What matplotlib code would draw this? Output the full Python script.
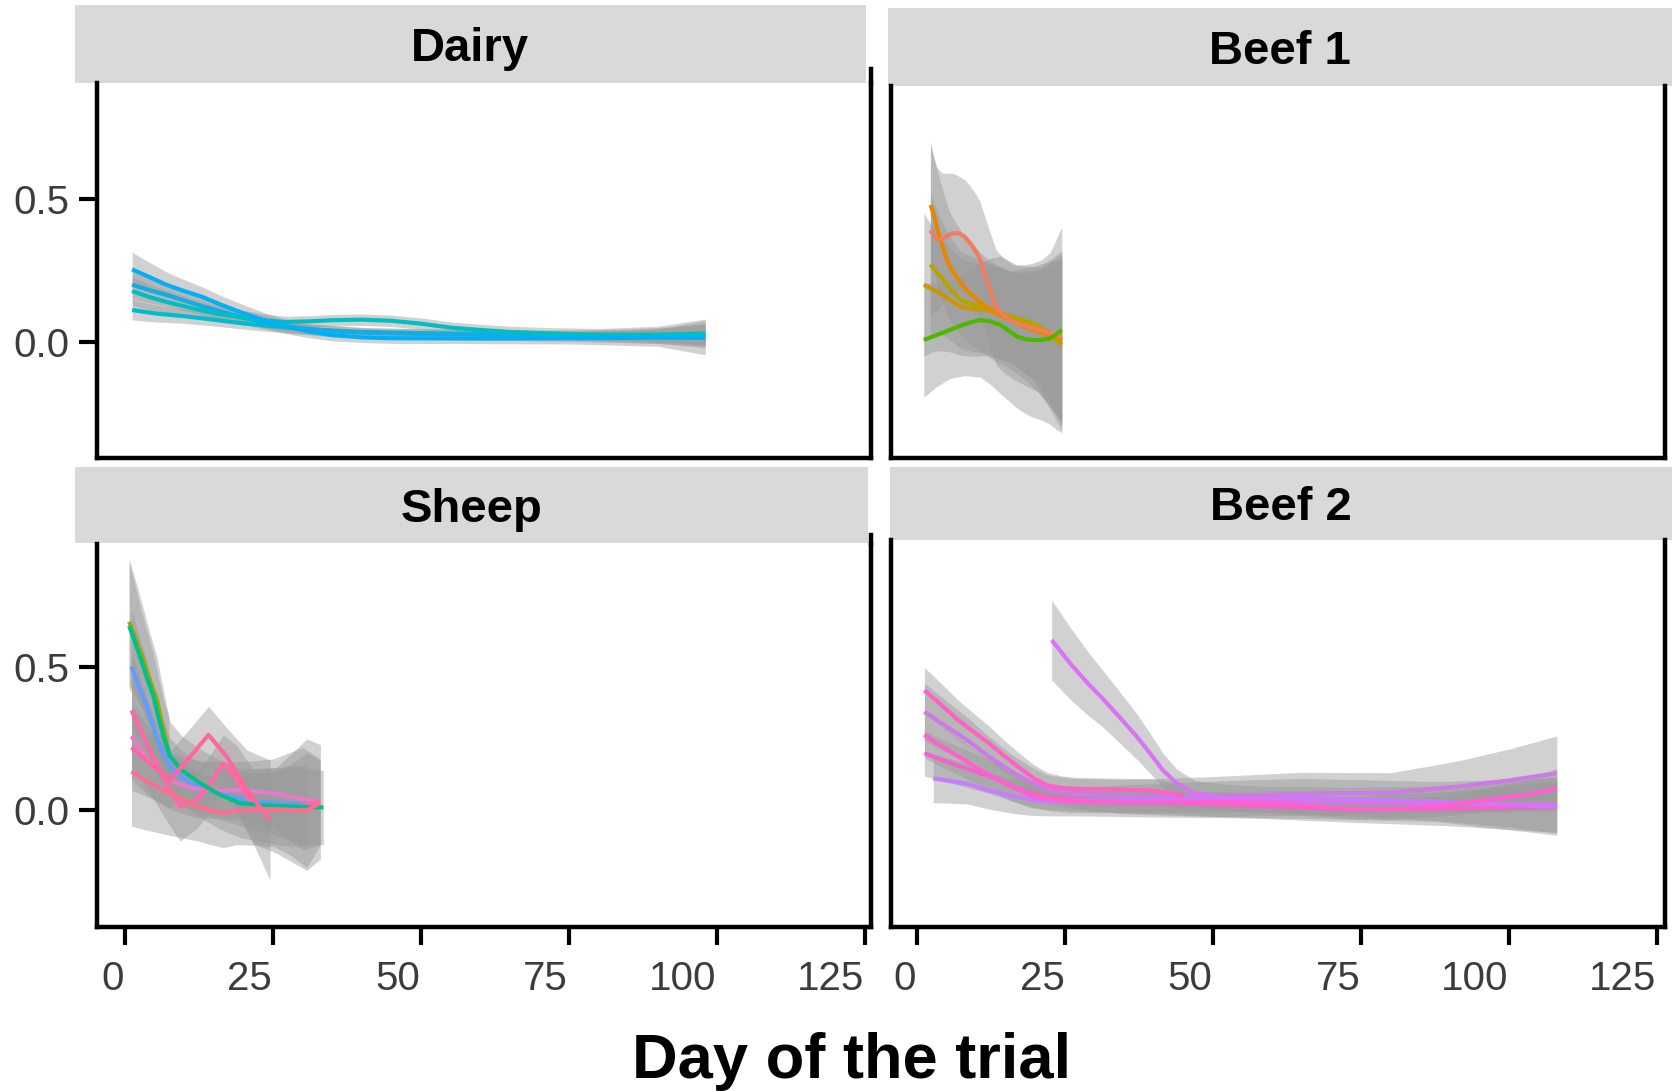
import matplotlib
matplotlib.use("Agg")
import matplotlib.pyplot as plt
from matplotlib.patches import Rectangle
from matplotlib.lines import Line2D
from matplotlib.transforms import ScaledTranslation

plt.rcParams['font.family'] = ['Liberation Sans', 'DejaVu Sans']

W, H = 1672, 1091
BAND = '#999999'
TICK_COL = '#3c3c3c'

# ---- Dairy: smoothed fits (day, fitted value, half-width of CI band)
dairy_a_day = [1.2, 5, 10, 15, 20, 25, 30, 35, 40, 50, 60, 70, 85, 98]
dairy_a_val = [0.112, 0.1, 0.09, 0.078, 0.065, 0.055, 0.045, 0.04, 0.035, 0.031, 0.028, 0.025, 0.025, 0.025]
dairy_a_se = [0.035, 0.03, 0.025, 0.022, 0.02, 0.02, 0.018, 0.017, 0.015, 0.015, 0.015, 0.016, 0.02, 0.035]

dairy_b_day = [1.2, 4, 7, 10, 13, 16, 20, 24, 27, 31, 35, 40, 45, 60, 75, 90, 98]
dairy_b_val = [0.2, 0.182, 0.165, 0.145, 0.125, 0.108, 0.085, 0.066, 0.055, 0.045, 0.038, 0.033,
               0.03, 0.025, 0.02, 0.02, 0.025]
dairy_b_se = [0.05, 0.045, 0.04, 0.035, 0.03, 0.028, 0.025, 0.022, 0.02, 0.02, 0.02, 0.018,
              0.018, 0.018, 0.018, 0.025, 0.04]

dairy_c_day = [1.2, 4, 7, 10, 13, 16, 20, 24, 27, 31, 35, 40, 45, 50, 55, 60, 65, 72, 80, 90, 98]
dairy_c_val = [0.178, 0.158, 0.14, 0.125, 0.11, 0.097, 0.085, 0.075, 0.07, 0.072, 0.076, 0.078,
               0.074, 0.064, 0.05, 0.042, 0.035, 0.03, 0.025, 0.025, 0.03]
dairy_c_se = [0.05, 0.045, 0.04, 0.035, 0.03, 0.028, 0.025, 0.022, 0.02, 0.02, 0.02, 0.02,
              0.02, 0.02, 0.02, 0.02, 0.02, 0.02, 0.022, 0.03, 0.05]

dairy_d_day = [1.2, 4, 7, 10, 13, 16, 20, 24, 27, 31, 35, 40, 45, 60, 75, 90, 98]
dairy_d_val = [0.254, 0.228, 0.2, 0.178, 0.158, 0.132, 0.1, 0.072, 0.055, 0.037, 0.024, 0.016,
               0.013, 0.012, 0.013, 0.015, 0.015]
dairy_d_se = [0.06, 0.052, 0.045, 0.04, 0.035, 0.032, 0.03, 0.027, 0.025, 0.022, 0.02, 0.018,
              0.018, 0.018, 0.02, 0.03, 0.06]

# ---- Beef 1
beef1_a_day = [1.1, 2.5, 3.9, 5.6, 7.3, 9.5, 11.8, 14, 16.2, 18.5, 20.7, 22.6, 24.4]
beef1_a_val = [0.2, 0.185, 0.17, 0.145, 0.123, 0.115, 0.112, 0.098, 0.083, 0.068, 0.053, 0.03, 0.007]
beef1_a_se = [0.25, 0.22, 0.2, 0.18, 0.17, 0.165, 0.16, 0.16, 0.16, 0.18, 0.2, 0.25, 0.3]

beef1_b_day = [2.2, 3.9, 5.6, 7.3, 9.3, 11.3, 13.5, 15.8, 17.8, 19.7, 22, 24.4]
beef1_b_val = [0.27, 0.23, 0.185, 0.147, 0.132, 0.123, 0.105, 0.089, 0.077, 0.065, 0.03, -0.01]
beef1_b_se = [0.25, 0.2, 0.18, 0.17, 0.165, 0.16, 0.16, 0.16, 0.18, 0.2, 0.25, 0.3]

beef1_c_day = [2.26, 2.7, 3.4, 4.1, 4.8, 5.5, 6.9, 8.3, 10, 11.7, 13.6, 15.6, 17.6, 19.6, 22, 24.4]
beef1_c_val = [0.479, 0.45, 0.395, 0.346, 0.3, 0.263, 0.218, 0.182, 0.15, 0.123, 0.098, 0.077,
               0.058, 0.042, 0.024, 0.007]
beef1_c_se = [0.22, 0.2, 0.2, 0.2, 0.195, 0.19, 0.185, 0.18, 0.175, 0.17, 0.17, 0.17, 0.18, 0.2,
              0.24, 0.28]

beef1_d_day = [2.2, 3.3, 4.2, 5.0, 6.0, 7.0, 8.0, 8.9, 9.8, 10.6, 11.3, 12.0, 12.7, 13.4, 14.8,
               16.2, 18.5, 20.7, 22.6, 24.4]
beef1_d_val = [0.39, 0.36, 0.36, 0.37, 0.38, 0.38, 0.368, 0.346, 0.32, 0.29, 0.245, 0.2, 0.158,
               0.118, 0.09, 0.07, 0.055, 0.042, 0.03, 0.019]
beef1_d_se = [0.3, 0.25, 0.23, 0.22, 0.21, 0.2, 0.2, 0.2, 0.2, 0.2, 0.2, 0.2, 0.2, 0.2, 0.2,
              0.2, 0.21, 0.22, 0.26, 0.3]

beef1_e_day = [1.1, 3.3, 5.5, 8, 10.6, 12.3, 14.0, 15.4, 16.8, 18.2, 19.6, 21, 22.4, 23.4, 24.4]
beef1_e_val = [0.007, 0.024, 0.042, 0.062, 0.077, 0.072, 0.06, 0.04, 0.019, 0.01, 0.006, 0.007,
               0.012, 0.025, 0.042]
beef1_e_se = [0.2, 0.18, 0.17, 0.18, 0.2, 0.22, 0.24, 0.245, 0.25, 0.26, 0.27, 0.28, 0.3, 0.33, 0.36]

# ---- Sheep
sheep_a_day = [1.1, 2.4, 3.7, 4.8, 5.9, 7.6, 9.3, 11.0, 13.8, 16.6, 19.4, 22.3, 26.5, 30.7]
sheep_a_val = [0.503, 0.43, 0.363, 0.29, 0.223, 0.153, 0.12, 0.095, 0.073, 0.055, 0.041, 0.03,
               0.024, 0.02]
sheep_a_se = [0.2, 0.18, 0.16, 0.14, 0.12, 0.1, 0.095, 0.09, 0.09, 0.09, 0.095, 0.1, 0.12, 0.14]

sheep_b_day = [1.1, 4, 8, 12, 16, 20, 25, 30, 33]
sheep_b_val = [0.26, 0.17, 0.1, 0.075, 0.07, 0.07, 0.06, 0.04, 0.03]
sheep_b_se = [0.15, 0.12, 0.1, 0.1, 0.1, 0.1, 0.12, 0.18, 0.15]

sheep_c_day = [1.1, 4.2, 7.0, 9.3, 12.1, 14.4, 16.6, 18.9, 21.7, 25.6, 30.7, 33.0]
sheep_c_val = [0.35, 0.21, 0.095, 0.013, 0.036, 0.094, 0.165, 0.106, 0.013, 0.0, 0.02, 0.03]
sheep_c_se = [0.2, 0.15, 0.13, 0.12, 0.1, 0.1, 0.1, 0.12, 0.13, 0.15, 0.23, 0.2]

sheep_d_day = [0.7, 1.9, 3.1, 4.2, 5.4, 6.1, 6.8, 7.4]
sheep_d_val = [0.66, 0.595, 0.526, 0.455, 0.386, 0.32, 0.258, 0.2]
sheep_d_se = [0.22, 0.2, 0.18, 0.165, 0.15, 0.14, 0.13, 0.13]

sheep_e_day = [0.7, 1.6, 2.5, 3.6, 4.8, 5.6, 6.5, 7.6, 9.6, 12.7, 16, 19.4, 23.6, 27.9, 33.5]
sheep_e_val = [0.645, 0.595, 0.54, 0.47, 0.4, 0.33, 0.258, 0.19, 0.14, 0.095, 0.055, 0.025,
               0.018, 0.014, 0.01]
sheep_e_se = [0.22, 0.2, 0.18, 0.165, 0.15, 0.14, 0.13, 0.12, 0.12, 0.12, 0.12, 0.12, 0.13,
              0.14, 0.13]

sheep_f_day = [1.1, 4.2, 7.6, 11.0, 14.1, 17.2, 20.6, 24.5]
sheep_f_val = [0.22, 0.165, 0.106, 0.188, 0.264, 0.188, 0.071, -0.034]
sheep_f_se = [0.15, 0.12, 0.1, 0.1, 0.1, 0.1, 0.14, 0.21]

sheep_g_day = [1.1, 3.2, 5.35, 7.0, 8.7, 10.5, 12.3, 14.5, 16.6, 18.9, 22, 25.1, 28, 30.7, 32.9]
sheep_g_val = [0.135, 0.108, 0.083, 0.065, 0.048, 0.03, 0.013, 0.0, -0.01, 0.0, 0.003, 0.004,
               0.002, 0.0, 0.025]
sheep_g_se = [0.19, 0.175, 0.16, 0.15, 0.14, 0.13, 0.12, 0.12, 0.12, 0.12, 0.125, 0.13, 0.16,
              0.2, 0.15]

# ---- Beef 2
beef2_a_day = [1.2, 5, 8.5, 12.1, 16, 19, 21.9, 30, 42.2, 57, 72.5, 90, 108]
beef2_a_val = [0.2, 0.17, 0.145, 0.12, 0.085, 0.062, 0.048, 0.035, 0.027, 0.015, 0.004, 0.006, 0.013]
beef2_a_se = [0.08, 0.07, 0.065, 0.06, 0.052, 0.048, 0.045, 0.04, 0.04, 0.042, 0.045, 0.06, 0.09]

beef2_b_day = [2.7, 5.5, 8.4, 12, 15.9, 19, 21.9, 30, 42.2, 55, 64.8, 76, 87.6, 98, 108]
beef2_b_val = [0.112, 0.103, 0.093, 0.07, 0.05, 0.038, 0.031, 0.032, 0.036, 0.04, 0.042, 0.037,
               0.031, 0.022, 0.013]
beef2_b_se = [0.085, 0.078, 0.07, 0.065, 0.06, 0.055, 0.05, 0.052, 0.06, 0.066, 0.07, 0.07,
              0.07, 0.085, 0.1]

beef2_c_day = [1.2, 4.8, 8.4, 12, 15.9, 19, 21.9, 26, 34.8, 49.8, 64.8, 80.0, 91.3, 100, 108]
beef2_c_val = [0.345, 0.295, 0.246, 0.19, 0.136, 0.1, 0.075, 0.06, 0.048, 0.048, 0.058, 0.062,
               0.083, 0.105, 0.13]
beef2_c_se = [0.1, 0.09, 0.08, 0.07, 0.06, 0.055, 0.05, 0.052, 0.06, 0.07, 0.075, 0.07, 0.09,
              0.11, 0.13]

beef2_d_day = [22.7, 26, 29, 31, 34, 37, 39.3, 41.5, 43.8, 46.8, 51, 57.4, 65, 72.5, 87.6, 100, 108]
beef2_d_val = [0.596, 0.51, 0.44, 0.398, 0.33, 0.26, 0.2, 0.14, 0.095, 0.06, 0.048, 0.04, 0.035,
               0.03, 0.025, 0.022, 0.02]
beef2_d_se = [0.14, 0.125, 0.11, 0.1, 0.09, 0.08, 0.07, 0.06, 0.05, 0.045, 0.045, 0.045, 0.048,
              0.05, 0.06, 0.08, 0.1]

beef2_e_day = [1.2, 4.8, 8.4, 12, 15.9, 19, 21.9, 26, 34.8, 42, 49.8, 55, 61.2, 67, 72.5, 80.0,
               87.6, 95.1, 102.7, 108]
beef2_e_val = [0.264, 0.215, 0.17, 0.125, 0.083, 0.055, 0.04, 0.03, 0.027, 0.028, 0.03, 0.028,
               0.025, 0.015, 0.006, 0.004, 0.013, 0.034, 0.054, 0.077]
beef2_e_se = [0.08, 0.07, 0.06, 0.055, 0.05, 0.045, 0.04, 0.038, 0.035, 0.035, 0.035, 0.035,
              0.035, 0.035, 0.035, 0.035, 0.035, 0.04, 0.05, 0.07]

beef2_f_day = [1.2, 4, 6.9, 9.5, 12.1, 14.7, 17.4, 19.6, 21.9, 24.5, 27.1, 33, 39.3, 42, 45.0]
beef2_f_val = [0.42, 0.37, 0.316, 0.275, 0.235, 0.19, 0.147, 0.113, 0.088, 0.078, 0.075, 0.073,
               0.07, 0.062, 0.05]
beef2_f_se = [0.08, 0.075, 0.07, 0.065, 0.06, 0.055, 0.05, 0.048, 0.045, 0.042, 0.04, 0.04,
              0.04, 0.042, 0.045]

# series per panel, in drawing order, with line colours
panels = {
    'Dairy': [
        (dairy_a_day, dairy_a_val, dairy_a_se, '#00BCD0'),
        (dairy_b_day, dairy_b_val, dairy_b_se, '#12ADE4'),
        (dairy_c_day, dairy_c_val, dairy_c_se, '#00BFC4'),
        (dairy_d_day, dairy_d_val, dairy_d_se, '#00B0F6'),
    ],
    'Beef 1': [
        (beef1_a_day, beef1_a_val, beef1_a_se, '#C99800'),
        (beef1_b_day, beef1_b_val, beef1_b_se, '#B5A300'),
        (beef1_c_day, beef1_c_val, beef1_c_se, '#E58700'),
        (beef1_d_day, beef1_d_val, beef1_d_se, '#F07E5E'),
        (beef1_e_day, beef1_e_val, beef1_e_se, '#4CB800'),
    ],
    'Sheep': [
        (sheep_a_day, sheep_a_val, sheep_a_se, '#619CFF'),
        (sheep_b_day, sheep_b_val, sheep_b_se, '#E77BC8'),
        (sheep_c_day, sheep_c_val, sheep_c_se, '#FF68A8'),
        (sheep_d_day, sheep_d_val, sheep_d_se, '#A3A500'),
        (sheep_e_day, sheep_e_val, sheep_e_se, '#00C08B'),
        (sheep_f_day, sheep_f_val, sheep_f_se, '#FF66A0'),
        (sheep_g_day, sheep_g_val, sheep_g_se, '#FF6C91'),
    ],
    'Beef 2': [
        (beef2_a_day, beef2_a_val, beef2_a_se, '#F066C8'),
        (beef2_b_day, beef2_b_val, beef2_b_se, '#C77CFF'),
        (beef2_c_day, beef2_c_val, beef2_c_se, '#CF78E8'),
        (beef2_d_day, beef2_d_val, beef2_d_se, '#D873F5'),
        (beef2_e_day, beef2_e_val, beef2_e_se, '#FF5FD0'),
        (beef2_f_day, beef2_f_val, beef2_f_se, '#FF61C3'),
    ],
}

# panel boxes in pixels (left, top, right, bottom), axis limits, strip boxes
layout = {
    'Dairy':  dict(box=(97, 83, 871, 458), xlim=(-4.73, 126.0), ylim=(-0.406, 0.906),
                   strip=(74.6, 5, 866, 82.7), left=True, bottom=False),
    'Beef 1': dict(box=(891, 86, 1664.5, 458), xlim=(-4.44, 126.2), ylim=(-0.406, 0.895),
                   strip=(888, 8.3, 1672, 86), left=False, bottom=False),
    'Sheep':  dict(box=(97, 544, 871, 926.7), xlim=(-4.73, 126.0), ylim=(-0.407, 0.932),
                   strip=(74.6, 466.7, 868.3, 543.3), left=True, bottom=True),
    'Beef 2': dict(box=(891, 540, 1664.5, 926.7), xlim=(-4.44, 126.2), ylim=(-0.407, 0.946),
                   strip=(890, 466.7, 1672, 540), left=False, bottom=True),
}

fig = plt.figure(figsize=(W / 100, H / 100), dpi=100)


def fig_rect(l, t, r, b):
    return [l / W, 1 - b / H, (r - l) / W, (b - t) / H]


for name, series in panels.items():
    lay = layout[name]
    ax = fig.add_axes(fig_rect(*lay['box']))
    for day, val, se, col in series:
        lo = [v - s for v, s in zip(val, se)]
        hi = [v + s for v, s in zip(val, se)]
        ax.fill_between(day, lo, hi, color=BAND, alpha=0.45, linewidth=0)
        ax.plot(day, val, color=col, lw=3.0, solid_capstyle='butt', solid_joinstyle='round')
    ax.set_xlim(*lay['xlim'])
    ax.set_ylim(*lay['ylim'])
    ax.spines['top'].set_visible(False)
    for s in ('left', 'right', 'bottom'):
        ax.spines[s].set_linewidth(3.2)
        ax.spines[s].set_color('black')
    ax.set_xticks([0, 25, 50, 75, 100, 125])
    ax.set_yticks([0.0, 0.5])
    ax.set_yticklabels(['0.0', '0.5'])
    ax.tick_params(axis='both', direction='out', length=13, width=3,
                   color='black', labelsize=29, labelcolor=TICK_COL)
    ax.tick_params(axis='y', pad=7, left=lay['left'], labelleft=lay['left'])
    ax.tick_params(axis='x', pad=11, bottom=lay['bottom'], labelbottom=lay['bottom'])
    # day labels sit just left of their tick marks
    shift = ScaledTranslation(-1 / 100, 0, fig.dpi_scale_trans)
    for lab in ax.get_xticklabels():
        lab.set_horizontalalignment('right')
        lab.set_transform(lab.get_transform() + shift)

    l, t, r, b = lay['strip']
    fig.add_artist(Rectangle((l / W, 1 - b / H), (r - l) / W, (b - t) / H,
                             transform=fig.transFigure, facecolor='#D9D9D9',
                             edgecolor='none', zorder=0))
    fig.text((l + r) / 2 / W, 1 - ((t + b) / 2 + 5) / H, name, ha='center', va='center',
             fontsize=34, fontweight='bold', color='black')

# right edge of the left column runs a little past the panel tops
for y0, y1 in [(69, 83), (535, 544)]:
    fig.add_artist(Line2D([871 / W, 871 / W], [1 - y0 / H, 1 - y1 / H],
                          transform=fig.transFigure, color='black', lw=3.2))

fig.text(852 / W, 1 - 1078 / H, 'Day of the trial', ha='center', va='baseline',
         fontsize=45.5, fontweight='bold', color='black')

fig.savefig('out.png', dpi=100)
